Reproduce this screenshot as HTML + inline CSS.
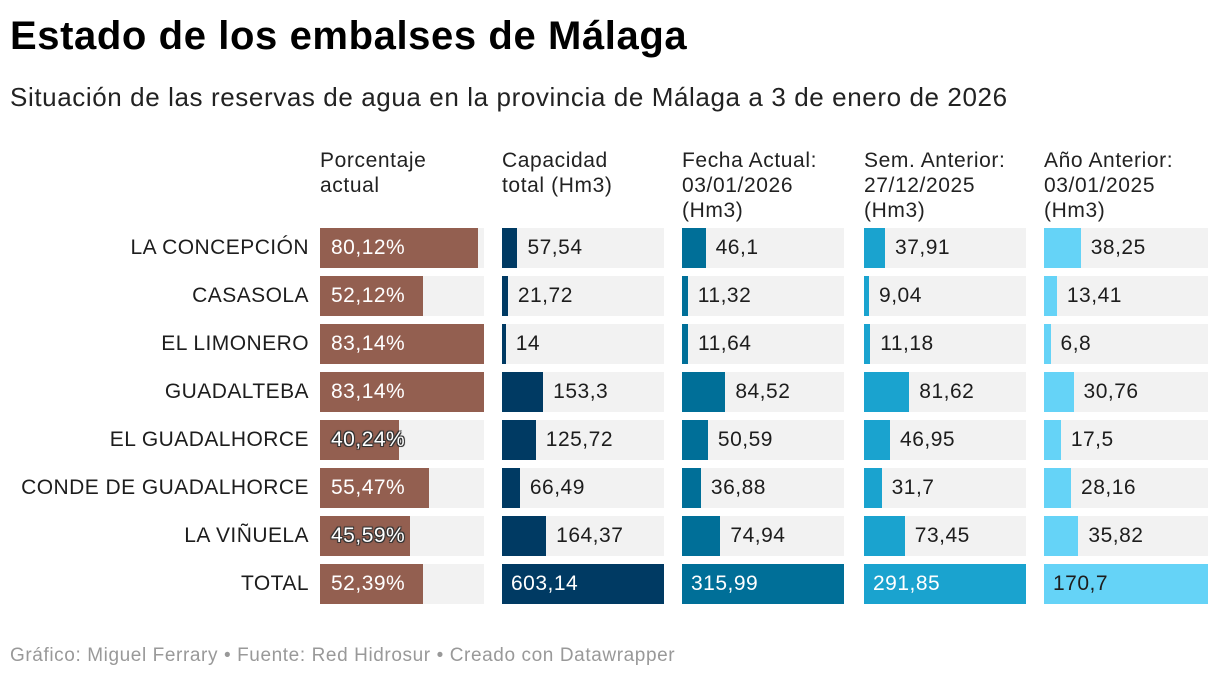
<!DOCTYPE html>
<html><head><meta charset="utf-8">
<style>
body{margin:0;width:1220px;height:680px;background:#fff;font-family:"Liberation Sans",sans-serif;color:#1d1d1d;position:relative;overflow:hidden}
.t{position:absolute;white-space:nowrap}
#title{left:10px;top:14px;font-size:40px;font-weight:bold;color:#000;letter-spacing:0.6px}
#sub{left:10px;top:82px;font-size:26px;color:#222;letter-spacing:0.6px}
.hd{position:absolute;top:148px;font-size:21px;line-height:25px;color:#222;letter-spacing:0.6px}
.lbl{position:absolute;right:911px;font-size:21px;line-height:40px;text-align:right;white-space:nowrap;letter-spacing:0.45px}
.bg{position:absolute;height:40px;background:#f2f2f2}
.bar{position:absolute;height:40px;left:0;top:0}
.val{position:absolute;top:0;line-height:40px;font-size:21px;white-space:nowrap;letter-spacing:0.5px}
.out{color:#fff;text-shadow:-1px -1px 0 #333,1px -1px 0 #333,-1px 1px 0 #333,1px 1px 0 #333,0 0 2px #333}
#foot{left:10px;top:645px;font-size:19px;color:#999;letter-spacing:0.6px}
</style></head><body>
<div class="t" id="title">Estado de los embalses de Málaga</div>
<div class="t" id="sub">Situación de las reservas de agua en la provincia de Málaga a 3 de enero de 2026</div>
<div class="hd" style="left:320px">Porcentaje<br>actual</div>
<div class="hd" style="left:502px">Capacidad<br>total (Hm3)</div>
<div class="hd" style="left:682px">Fecha Actual:<br>03/01/2026<br>(Hm3)</div>
<div class="hd" style="left:864px">Sem. Anterior:<br>27/12/2025<br>(Hm3)</div>
<div class="hd" style="left:1044px">Año Anterior:<br>03/01/2025<br>(Hm3)</div>
<div class="t" id="foot">Gráfico: Miguel Ferrary • Fuente: Red Hidrosur • Creado con Datawrapper</div>
<div id="tbl"></div>
<script>
const names=["LA CONCEPCIÓN","CASASOLA","EL LIMONERO","GUADALTEBA","EL GUADALHORCE","CONDE DE GUADALHORCE","LA VIÑUELA","TOTAL"];
const pct=[80.12,52.12,83.14,83.14,40.24,55.47,45.59,52.39];
const capacidad=[57.54,21.72,14,153.3,125.72,66.49,164.37,603.14];
const actual=[46.1,11.32,11.64,84.52,50.59,36.88,74.94,315.99];
const semAnterior=[37.91,9.04,11.18,81.62,46.95,31.7,73.45,291.85];
const anoAnterior=[38.25,13.41,6.8,30.76,17.5,28.16,35.82,170.7];
const fmt=v=>String(v).replace('.',',');
const cols=[
 {d:pct,x:320,w:164,c:"#935f50",pct:true,n:"porcentaje"},
 {d:capacidad,x:502,w:162,c:"#003a63",n:"capacidad"},
 {d:actual,x:682,w:162,c:"#006f98",n:"fecha-actual"},
 {d:semAnterior,x:864,w:162,c:"#1aa3cf",n:"semana-anterior"},
 {d:anoAnterior,x:1044,w:164,c:"#65d3f7",n:"ano-anterior"}];
const tbl=document.getElementById('tbl');
names.forEach((nm,i)=>{
 const y=228+i*48;
 const l=document.createElement('div');l.className='lbl';l.style.top=y+'px';l.textContent=nm;
 
 
 tbl.appendChild(l);
 cols.forEach(col=>{
  const max=Math.max(...col.d);
  const w=col.d[i]/max*col.w;
  const bg=document.createElement('div');bg.className='bg';
  bg.style.left=col.x+'px';bg.style.top=y+'px';bg.style.width=col.w+'px';
  
  
  const b=document.createElement('div');b.className='bar';b.style.width=w+'px';b.style.background=col.c;
  
  
  bg.appendChild(b);
  const v=document.createElement('div');v.className='val';
  
  
  if(col.pct){
   v.textContent=fmt(col.d[i])+'%';v.style.left='11px';v.style.color='#fff';
   if(w<95)v.classList.add('out');
  }else{
   v.textContent=fmt(col.d[i]);
   if(w>col.w*0.7){v.style.left='9px';v.style.color=(col.n==='ano-anterior')?'#1d1d1d':'#fff';}
   else v.style.left=(w+10)+'px';
  }
  bg.appendChild(v);
  tbl.appendChild(bg);
 });
});
</script>
</body></html>
